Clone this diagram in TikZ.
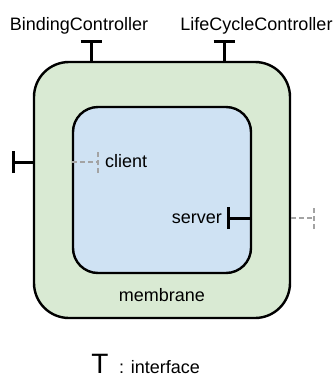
\documentclass[tikz,border=0pt]{standalone}
\usepackage{fontspec}
\setmainfont{Liberation Sans}
\definecolor{membgreen}{HTML}{D9EAD3}
\definecolor{contblue}{HTML}{CFE2F3}
\definecolor{dashgray}{HTML}{A3A3A3}
\tikzstyle{membranebox}=[draw,fill=membgreen,line width=2.4pt,rounded corners=35pt,minimum width=256pt,minimum height=256pt,inner sep=0pt]
\tikzstyle{contentbox}=[draw,fill=contblue,line width=2.4pt,rounded corners=25pt,minimum width=178pt,minimum height=166pt,inner sep=0pt]
\tikzstyle{itf}=[line width=3pt]
\tikzstyle{itfdash}=[dashgray,line width=2.8pt,dash pattern=on 5pt off 3pt]
\tikzstyle{lbl}=[inner sep=0pt,font=\fontsize{18pt}{21pt}\selectfont]

\begin{document}
\begin{tikzpicture}[x=1pt,y=-1pt]
    \useasboundingbox (0,0) rectangle (336,376);
    \node[membranebox] (memb) at (162,190) {};
    \node[contentbox] (cont) at (162,190) {};
    \node[lbl,anchor=base] (membname) at (162,301) {membrane};

    % ends of the interfaces
    \coordinate (bc) at (91,41);
    \coordinate (lc) at (224,41);
    \coordinate (ext) at (13,162);
    \coordinate (srv) at (228,218);
    \coordinate (cli) at (98,162);
    \coordinate (cliext) at (314,218);

    \foreach \p in {bc,lc} {
        \draw[itf] (\p |- memb.north) -- (\p);
        \draw[itf] ([xshift=-10.5pt]\p) -- ([xshift=10.5pt]\p);
    }
    \draw[itf] (ext -| memb.west) -- (ext);
    \draw[itf] ([yshift=-11pt]ext) -- ([yshift=11pt]ext);
    \draw[itf] (srv -| cont.east) -- (srv);
    \draw[itf] ([yshift=-11pt]srv) -- ([yshift=11pt]srv);
    \draw[itfdash] (cli -| cont.west) -- (cli);
    \draw[itfdash] ([yshift=-11pt]cli) -- ([yshift=11pt]cli);
    \draw[itfdash] (cliext -| memb.east) -- (cliext);
    \draw[itfdash] ([yshift=-11pt]cliext) -- ([yshift=11pt]cliext);

    \node[lbl,anchor=base] (bcname) at (79,30) {BindingController};
    \node[lbl,anchor=base] (lcname) at (256.5,30) {LifeCycleController};
    \node[lbl,anchor=base west] (cliname) at (105,167) {client};
    \node[lbl,anchor=base east] (srvname) at (222,223) {server};

    % legend
    \node[inner sep=0pt,anchor=base,font=\fontsize{28pt}{30pt}\selectfont] (legsym) at (100,373) {T};
    \node[lbl,anchor=base west] (legtext) at (119,373) {: interface};
\end{tikzpicture}
\end{document}
